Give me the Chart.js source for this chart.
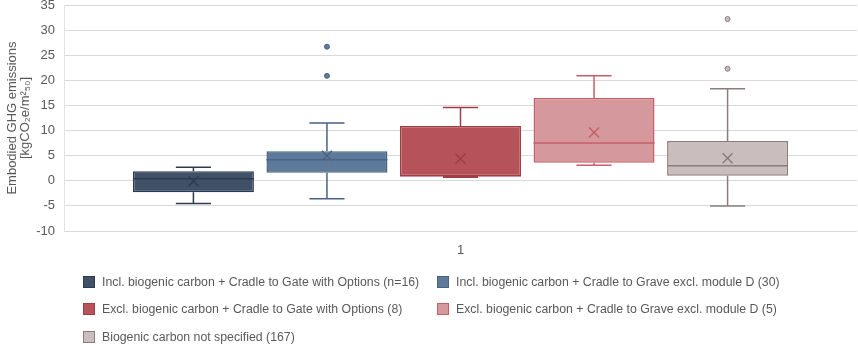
<!DOCTYPE html>
<html>
<head>
<meta charset="utf-8">
<script src="https://cdn.jsdelivr.net/npm/chart.js@4"></script>
<style>
  body { margin: 0; background: #fff; }
  #wrap { position: relative; width: 858px; height: 345px; }
  .legItem { position: absolute; font: 12.3px "Liberation Sans", Arial, sans-serif; color: #595959; white-space: nowrap; height: 16px; line-height: 16px; }
  .legItem span.sw { position: absolute; left: 0; top: 2px; width: 10px; height: 10px; border: 1px solid; }
  .legItem span.tx { position: absolute; left: 19px; top: 0; }
</style>
</head>
<body>
<div id="wrap">
  <canvas id="boxChart" width="858" height="345"></canvas>
</div>
<script>
// box plot values
const categories = ['1'];
const seriesLabels = [
    'Incl. biogenic carbon + Cradle to Gate with Options (n=16)',
    'Incl. biogenic carbon + Cradle to Grave excl. module D (30)',
    'Excl. biogenic carbon + Cradle to Gate with Options (8)',
    'Excl. biogenic carbon + Cradle to Grave excl. module D (5)',
    'Biogenic carbon not specified (167)'
];
const q1Values = [-2.3, 1.6, 0.9, 3.6, 1.0];
const q3Values = [1.9, 5.9, 10.9, 16.5, 7.9];
const medianValues = [0.4, 4.2, 1.0, 7.5, 3.0];
const whiskerLow = [-4.5, -3.6, 0.7, 3.1, -5.0];
const whiskerHigh = [2.7, 11.5, 14.6, 20.9, 18.3];
const meanValues = [-0.1, 5.0, 4.4, 9.6, 4.5];
const outlierValues = [[], [26.7, 20.9], [], [], [32.2, 22.3]];
const yTicks = [-10, -5, 0, 5, 10, 15, 20, 25, 30, 35];

const fillColors = ['#3f5068', '#5e7a9b', '#b6525a', '#d4989d', '#c9bdbd'];
const lineColors = ['#2e3b4e', '#4a6382', '#a03e47', '#c75e69', '#8a7d7d'];

// whiskers, medians, means and outliers on top of the floating bars
const boxExtras = {
    id: 'boxExtras',
    afterDatasetsDraw(chart) {
        const ctx = chart.ctx;
        const y = chart.scales.y;
        chart.data.datasets.forEach((ds, i) => {
            const bar = chart.getDatasetMeta(i).data[0];
            const x = bar.x, w = bar.width;
            const left = x - w / 2, right = x + w / 2;
            const cap = w * 0.145;
            ctx.save();
            ctx.strokeStyle = lineColors[i];
            ctx.lineWidth = 1.5;
            ctx.beginPath();
            ctx.moveTo(x, y.getPixelForValue(q3Values[i]));
            ctx.lineTo(x, y.getPixelForValue(whiskerHigh[i]));
            ctx.moveTo(x - cap, y.getPixelForValue(whiskerHigh[i]));
            ctx.lineTo(x + cap, y.getPixelForValue(whiskerHigh[i]));
            ctx.moveTo(x, y.getPixelForValue(q1Values[i]));
            ctx.lineTo(x, y.getPixelForValue(whiskerLow[i]));
            ctx.moveTo(x - cap, y.getPixelForValue(whiskerLow[i]));
            ctx.lineTo(x + cap, y.getPixelForValue(whiskerLow[i]));
            ctx.moveTo(left, y.getPixelForValue(medianValues[i]));
            ctx.lineTo(right, y.getPixelForValue(medianValues[i]));
            const my = y.getPixelForValue(meanValues[i]);
            ctx.moveTo(x - 5, my - 5);
            ctx.lineTo(x + 5, my + 5);
            ctx.moveTo(x + 5, my - 5);
            ctx.lineTo(x - 5, my + 5);
            ctx.stroke();
            ctx.lineWidth = 1;
            ctx.fillStyle = fillColors[i];
            outlierValues[i].forEach(v => {
                ctx.beginPath();
                ctx.arc(x, y.getPixelForValue(v), 2.5, 0, Math.PI * 2);
                ctx.fill();
                ctx.stroke();
            });
            ctx.restore();
        });
    }
};

const boxChartCtx = document.getElementById('boxChart').getContext('2d');
new Chart(boxChartCtx, {
    type: 'bar',
    data: {
        labels: categories,
        datasets: seriesLabels.map((label, i) => ({
            label: label,
            data: [[q1Values[i], q3Values[i]]],
            backgroundColor: fillColors[i],
            borderColor: lineColors[i],
            borderWidth: 1.5,
            borderSkipped: false,
            categoryPercentage: 0.842,
            barPercentage: 0.906
        }))
    },
    options: {
        responsive: false,
        animation: false,
        layout: { padding: { left: 0, right: 1, top: 0, bottom: 0 } },
        scales: {
            y: {
                min: -10, max: 35,
                afterFit: s => { s.width = 64; },
                afterBuildTicks: s => { s.ticks = yTicks.map(v => ({ value: v })); },
                grid: { color: '#d9d9d9', drawTicks: true, tickLength: 9, tickColor: 'rgba(0,0,0,0)' },
                border: { display: true, color: '#e3e3e3' },
                ticks: { padding: 0, color: '#595959', font: { family: '"Liberation Sans", Arial, sans-serif', size: 13, lineHeight: 0.77 } },
                title: {
                    display: true,
                    text: ['Embodied GHG emissions', '[kgCO\u2082e/m\u00b2\u2085\u2080]'],
                    color: '#595959',
                    padding: { top: 5.5, bottom: 0 },
                    font: { family: '"Liberation Sans", Arial, sans-serif', size: 13, lineHeight: 1.0 }
                }
            },
            x: {
                afterFit: s => { s.height = 114; },
                grid: { display: false },
                border: { display: false },
                ticks: { padding: 4, color: '#595959', font: { family: '"Liberation Sans", Arial, sans-serif', size: 13 } }
            }
        },
        plugins: { legend: { display: false }, tooltip: { enabled: false }, title: { display: false } }
    },
    plugins: [boxExtras]
});

// two-column legend under the plot
const wrap = document.getElementById('wrap');
const legCols = [83, 437];
const legRows = [282, 309, 337];
seriesLabels.forEach((label, i) => {
    const item = document.createElement('div');
    item.className = 'legItem';
    item.style.left = legCols[i % 2] + 'px';
    item.style.top = (legRows[Math.floor(i / 2)] - 8) + 'px';
    item.innerHTML = '<span class="sw" style="background:' + fillColors[i] + ';border-color:' + lineColors[i] + '"></span><span class="tx"></span>';
    item.querySelector('.tx').textContent = label;
    wrap.appendChild(item);
});
</script>
</body>
</html>
